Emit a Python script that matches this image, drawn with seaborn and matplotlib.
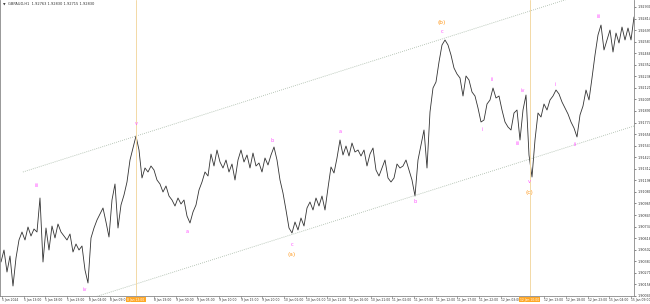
import numpy as np
import pandas as pd
import matplotlib
matplotlib.use("Agg")
import matplotlib.pyplot as plt
import matplotlib.transforms as mtransforms
import seaborn as sns

# ---------------- data ----------------
symbol_header = "GBPAUD,H1  1.92763 1.92830 1.92715 1.92830"

prices = [
    1.9038, 1.9050, 1.9028, 1.9044, 1.9014, 1.9042, 1.9060, 1.9068, 1.9060, 1.9073,
    1.9064, 1.9071, 1.9068, 1.9102, 1.9038, 1.9072, 1.9050, 1.9074, 1.9062, 1.9076,
    1.9068, 1.9064, 1.9060, 1.9066, 1.9048, 1.9056, 1.9050, 1.9054, 1.9030, 1.9017,
    1.9062, 1.9072, 1.9080, 1.9086, 1.9092, 1.9078, 1.9063, 1.9100, 1.9116, 1.9072,
    1.9095, 1.9105, 1.9118, 1.9140, 1.9152, 1.9164, 1.9150, 1.9122, 1.9132, 1.9128,
    1.9134, 1.9130, 1.9120, 1.9116, 1.9108, 1.9114, 1.9104, 1.9100, 1.9094, 1.9102,
    1.9096, 1.9100, 1.9084, 1.9077, 1.9088, 1.9095, 1.9110, 1.9118, 1.9128, 1.9124,
    1.9146, 1.9134, 1.9150, 1.9138, 1.9132, 1.9140, 1.9128, 1.9136, 1.9120, 1.9140,
    1.9150, 1.9138, 1.9145, 1.9132, 1.9147, 1.9134, 1.9137, 1.9128, 1.9142, 1.9135,
    1.9145, 1.9153, 1.9140, 1.9120, 1.9107, 1.9090, 1.9072, 1.9067, 1.9078, 1.9070,
    1.9082, 1.9074, 1.9092, 1.9098, 1.9090, 1.9102, 1.9094, 1.9104, 1.9090, 1.9112,
    1.9133, 1.9127, 1.9142, 1.9160, 1.9145, 1.9154, 1.9144, 1.9157, 1.9148, 1.9150,
    1.9144, 1.9150, 1.9134, 1.9146, 1.9152, 1.9130, 1.9124, 1.9132, 1.9140, 1.9122,
    1.9118, 1.9122, 1.9136, 1.9132, 1.9134, 1.9140, 1.9130, 1.9120, 1.9104, 1.9140,
    1.9155, 1.9170, 1.9132, 1.9188, 1.9212, 1.9218, 1.9238, 1.9255, 1.9260, 1.9255,
    1.9245, 1.9232, 1.9226, 1.9222, 1.9204, 1.9224, 1.9220, 1.9208, 1.9204, 1.9192,
    1.9178, 1.9180, 1.9196, 1.9200, 1.9212, 1.9202, 1.9204, 1.9190, 1.9178, 1.9173,
    1.9170, 1.9187, 1.9190, 1.9160, 1.9190, 1.9205, 1.9145, 1.9123, 1.9160, 1.9187,
    1.9183, 1.9196, 1.9190, 1.9200, 1.9204, 1.9210, 1.9206, 1.9198, 1.9192, 1.9186,
    1.9178, 1.9172, 1.9163, 1.9185, 1.9194, 1.9210, 1.9200, 1.9222, 1.9245, 1.9265,
    1.9275, 1.9250, 1.9260, 1.9270, 1.9248, 1.9267, 1.9257, 1.9273, 1.9260, 1.9272,
    1.9260, 1.9283,
]

price_ticks = [1.92930, 1.92814, 1.92699, 1.92583, 1.92468, 1.92352, 1.92236, 1.92121,
               1.92005, 1.91890, 1.91774, 1.91658, 1.91543, 1.91427, 1.91312, 1.91196,
               1.91080, 1.90965, 1.90849, 1.90734, 1.90618, 1.90502, 1.90387, 1.90271,
               1.90156, 1.90040]

time_labels = ["5 Jan 2024", "5 Jan 13:00", "5 Jan 18:00", "5 Jan 23:00", "8 Jan 04:00",
               "8 Jan 09:00", "8 Jan 14:00", "8 Jan 19:00", "9 Jan 00:00", "9 Jan 05:00",
               "9 Jan 10:00", "9 Jan 15:00", "9 Jan 20:00", "10 Jan 01:00", "10 Jan 06:00",
               "10 Jan 11:00", "10 Jan 16:00", "10 Jan 21:00", "11 Jan 02:00", "11 Jan 07:00",
               "11 Jan 12:00", "11 Jan 17:00", "11 Jan 22:00", "12 Jan 03:00", "12 Jan 08:00",
               "12 Jan 13:00", "12 Jan 18:00", "12 Jan 23:00", "15 Jan 04:00", "15 Jan 09:00"]
hidden_time_labels = [6, 24]

vline_bars = [45, 176.3]
vline_labels = ["8 Jan 13:00", "12 Jan 10:00"]

# wave labels: text, bar, price
wave_text = ["iii", "iv", "v", "a", "b", "c", "a", "b", "c", "i", "ii", "iii", "iv", "v", "i", "ii", "iii"]
wave_bar = [12, 28, 45, 62, 90.3, 97, 113, 138, 147, 160.3, 163.7, 172.3, 174, 176, 184.7, 191.3, 199.3]
wave_price = [1.9114, 1.9010, 1.9176, 1.9068, 1.9159, 1.9055, 1.9168, 1.9098, 1.9268,
              1.9170, 1.9220, 1.9156, 1.9209, 1.9118, 1.9215, 1.9155, 1.9283]

major_text = ["(a)", "(b)", "(c)"]
major_bar = [97, 147, 176]
major_price = [1.9045, 1.9277, 1.9107]

# channel lines: (bar, price) endpoints
upper_bar = [7.3, 211.0]
upper_price = [1.9128, 1.9322]
lower_bar = [31.3, 211.0]
lower_price = [1.9003, 1.9174]

# ---------------- plot ----------------
sns.set_style("white")
plt.rcParams["font.family"] = ["DejaVu Sans"]

W, H = 650, 304
fig = plt.figure(figsize=(W / 100, H / 100), dpi=100)
ax = fig.add_axes([0, 8 / H, 634 / W, 296 / H])

df = pd.DataFrame({"bar": np.arange(len(prices)), "price": prices})
sns.lineplot(data=df, x="bar", y="price", ax=ax, color="#333333", linewidth=0.6)

chan_col = "#a3b5a3"
ax.plot(upper_bar, upper_price, linestyle=(0, (1, 1.5)), color=chan_col, linewidth=0.6)
ax.plot(lower_bar, lower_price, linestyle=(0, (1, 1.5)), color=chan_col, linewidth=0.6)

for vb in vline_bars:
    ax.axvline(vb, color="#f3d9a6", linewidth=0.7)

pink = "#ff55ff"
for t, b, p in zip(wave_text, wave_bar, wave_price):
    ax.text(b, p, t, color=pink, fontsize=3.6, ha="center", va="center")
orange = "#ff9a1f"
for t, b, p in zip(major_text, major_bar, major_price):
    ax.text(b, p, t, color=orange, fontsize=4.2, ha="center", va="center")

ax.set_xlim(-0.33, 211)
ax.set_ylim(1.9004, 1.9300)
ax.set_xlabel("")
ax.set_ylabel("")

ax.yaxis.tick_right()
ax.set_yticks(price_ticks)
ax.set_yticklabels([f"{v:.5f}" for v in price_ticks])
ax.tick_params(axis="y", labelsize=2.4, length=1.5, width=0.5, pad=0.8, colors="#555555",
               labelcolor="#333333")
ax.set_xticks([])

ax.spines["top"].set_visible(False)
for s in ["right", "bottom", "left"]:
    ax.spines[s].set_color("#888888")
    ax.spines[s].set_linewidth(0.6)

# time axis labels (drawn as text, continuing under the price scale)
trans = mtransforms.blended_transform_factory(ax.transData, ax.transAxes)
tick_step = 7.23
for k, lab in enumerate(time_labels):
    xb = k * tick_step + 0.33
    if k in hidden_time_labels:
        continue
    ax.text(xb, -0.012, lab, transform=trans, fontsize=2.2, ha="left", va="center",
            color="#333333", clip_on=False)
    if xb < 211:
        ax.plot([xb, xb], [0, -0.006], transform=trans, color="#888888", linewidth=0.5,
                clip_on=False)
for vb, lab in zip(vline_bars, vline_labels):
    ax.text(vb, -0.012, lab, transform=trans, fontsize=2.2, ha="center", va="center",
            color="#ffffff", clip_on=False, zorder=5,
            bbox=dict(boxstyle="square,pad=0.3", fc="#ffa726", ec="none"))

ax.text(0.004, 0.985, "\u25bc", transform=ax.transAxes, fontsize=2.4, color="#333333",
        ha="left", va="center")
ax.text(0.012, 0.985, symbol_header, transform=ax.transAxes, fontsize=2.6, color="#333333",
        ha="left", va="center")

fig.savefig("out.png", dpi=100, facecolor="white")
